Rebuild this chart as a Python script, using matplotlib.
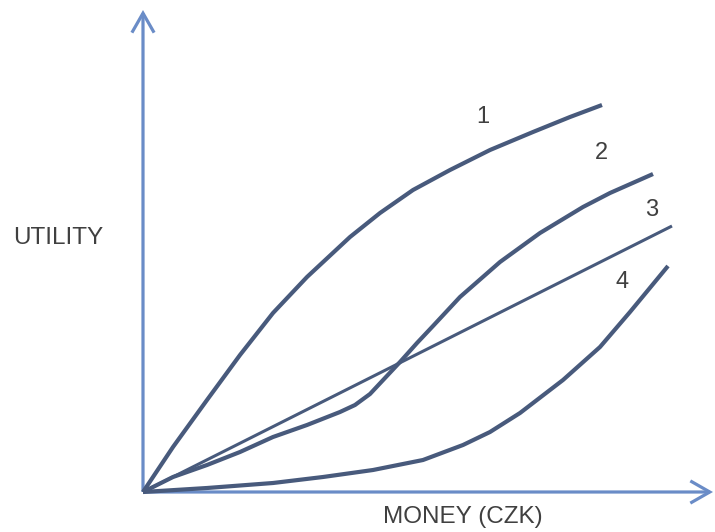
"""Utility of money: four utility curves (concave, S-shaped, linear, convex)."""

import matplotlib

matplotlib.use("Agg")
import matplotlib.pyplot as plt
from matplotlib.patches import FancyArrowPatch

AXIS = "#6a8cc7"
CURVE = "#485a7c"
TEXT = "#404040"

# money / utility readings for each curve (arbitrary units, origin at 0,0)
money_1 = [0, 3.0, 6.4, 9.7, 13.0, 16.4, 20.7, 23.7, 27.0, 30.7, 34.7, 39.0, 42.7, 45.9]
util_1 = [0, 4.5, 9.2, 13.7, 17.9, 21.5, 25.5, 27.9, 30.2, 32.2, 34.2, 36.0, 37.5, 38.7]

money_2 = [0, 3.0, 6.4, 9.7, 13.0, 16.4, 19.7, 21.2, 22.7, 24.2, 25.7, 27.4, 29.0, 31.7, 35.7, 39.7, 44.0, 46.7, 51.0]
util_2 = [0, 1.5, 2.7, 4.0, 5.5, 6.7, 8.0, 8.7, 9.8, 11.4, 13.0, 14.9, 16.6, 19.5, 23.0, 25.9, 28.5, 29.9, 31.8]

money_3 = [0, 52.9]
util_3 = [0, 26.6]

money_4 = [0, 6.4, 13.0, 18.0, 23.0, 28.0, 32.0, 34.7, 37.7, 42.0, 45.7, 48.7, 52.5]
util_4 = [0, 0.4, 0.9, 1.5, 2.2, 3.2, 4.7, 6.0, 7.9, 11.2, 14.5, 18.0, 22.6]

curve_labels = ["1", "2", "3", "4"]
label_money = [34.0, 45.8, 50.9, 47.9]
label_util = [37.5, 33.9, 28.2, 21.0]

fig = plt.figure(figsize=(7.15, 5.32), dpi=100)
fig.patch.set_facecolor("white")
ax = fig.add_axes([0, 0, 1, 1])
ax.set_xlim(-14.3, 57.2)
ax.set_ylim(-4.0, 49.2)
ax.axis("off")

# axes drawn as arrows
for end in ((57.0, 0), (0, 48.2)):
    ax.add_patch(FancyArrowPatch((0, 0), end, arrowstyle="->,head_length=0.7,head_width=0.4",
                                 mutation_scale=20, lw=2.3, color=AXIS, shrinkA=0, shrinkB=0,
                                 joinstyle="miter", capstyle="butt"))

ax.plot(money_1, util_1, color=CURVE, lw=3.0, solid_capstyle="butt", solid_joinstyle="round")
ax.plot(money_2, util_2, color=CURVE, lw=3.0, solid_capstyle="butt", solid_joinstyle="round")
ax.plot(money_3, util_3, color=CURVE, lw=2.2, solid_capstyle="butt")
ax.plot(money_4, util_4, color=CURVE, lw=3.0, solid_capstyle="butt", solid_joinstyle="round")

for lab, mx, uy in zip(curve_labels, label_money, label_util):
    ax.text(mx, uy, lab, ha="center", va="center", fontsize=17, color=TEXT, family="Liberation Sans")

ax.text(-8.5, 25.4, "UTILITY", ha="center", va="center", fontsize=17.5, color=TEXT, family="Liberation Sans")
ax.text(32.0, -2.5, "MONEY (CZK)", ha="center", va="center", fontsize=17.5, color=TEXT, family="Liberation Sans")

fig.savefig("out.png", dpi=100)
